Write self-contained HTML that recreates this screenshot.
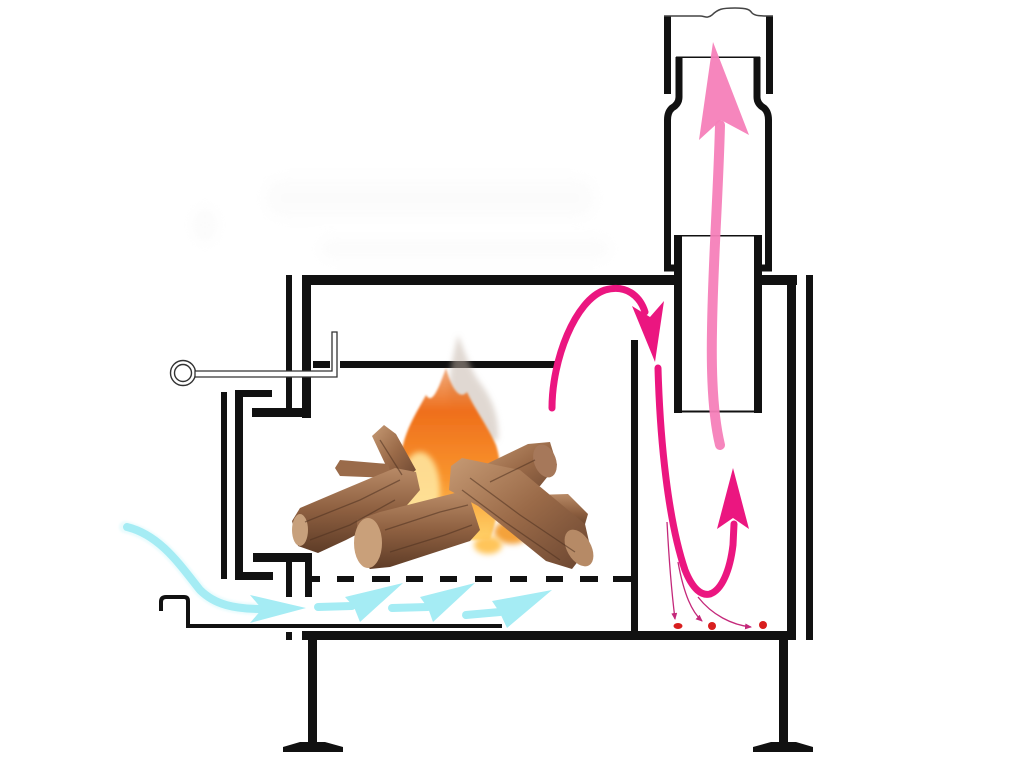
<!DOCTYPE html>
<html>
<head>
<meta charset="utf-8">
<style>
html,body{margin:0;padding:0;background:#fff;}
svg{display:block;}
</style>
</head>
<body>
<svg width="1024" height="765" viewBox="0 0 1024 765" xmlns="http://www.w3.org/2000/svg">
<defs>
  <filter id="blur6" x="-50%" y="-50%" width="200%" height="200%"><feGaussianBlur stdDeviation="6"/></filter>
  <filter id="blur3" x="-50%" y="-50%" width="200%" height="200%"><feGaussianBlur stdDeviation="3"/></filter>
  <filter id="blur1" x="-20%" y="-20%" width="140%" height="140%"><feGaussianBlur stdDeviation="1"/></filter>
  <linearGradient id="flameG" x1="0" y1="1" x2="0" y2="0">
    <stop offset="0" stop-color="#ffd36a"/>
    <stop offset="0.35" stop-color="#f9962e"/>
    <stop offset="0.75" stop-color="#ef6f1c"/>
    <stop offset="1" stop-color="#e8742a" stop-opacity="0.6"/>
  </linearGradient>
  <linearGradient id="barkA" x1="0" y1="0" x2="0" y2="1">
    <stop offset="0" stop-color="#b88a66"/>
    <stop offset="0.5" stop-color="#8d5f40"/>
    <stop offset="1" stop-color="#5e3c27"/>
  </linearGradient>
  <linearGradient id="barkB" x1="0" y1="0" x2="1" y2="1">
    <stop offset="0" stop-color="#c69a74"/>
    <stop offset="0.5" stop-color="#9a6a48"/>
    <stop offset="1" stop-color="#6a4530"/>
  </linearGradient>
  <marker id="mh" markerWidth="8" markerHeight="8" refX="6" refY="3" orient="auto" markerUnits="userSpaceOnUse">
    <path d="M0,0 L7,3 L0,6 Z" fill="#c4287a"/>
  </marker>
</defs>

<!-- faint watermark -->
<g opacity="0.25" filter="url(#blur6)">
  <rect x="265" y="178" width="330" height="40" rx="18" fill="#f3f3f3"/>
  <rect x="320" y="238" width="290" height="22" rx="10" fill="#f3f3f3"/>
  <ellipse cx="205" cy="225" rx="12" ry="18" fill="#f0f0f0"/>
</g>

<!-- ===== stove structure ===== -->
<g fill="#111">
  <!-- top -->
  <rect x="302" y="275" width="380" height="10"/>
  <rect x="754" y="275" width="43" height="10"/>
  <!-- right walls -->
  <rect x="787" y="275" width="9" height="365"/>
  <rect x="806" y="275" width="7" height="365"/>
  <!-- bottom -->
  <rect x="302" y="631" width="494" height="9"/>
  <rect x="286" y="632" width="6" height="8"/>
  <!-- partition -->
  <rect x="631" y="340" width="7" height="295"/>
  <!-- chimney lower pipe -->
  <rect x="674" y="235" width="8" height="178"/>
  <rect x="754" y="235" width="8" height="178"/>
  <rect x="674" y="410.5" width="88" height="2"/>
  <rect x="674" y="235" width="88" height="1.5"/>
  <!-- chimney cap -->
  <rect x="664" y="16" width="7" height="78"/>
  <rect x="766" y="16" width="7" height="78"/>
  <rect x="676" y="56.5" width="84" height="1.5"/>

  <!-- left structure -->
  <rect x="286" y="275" width="6" height="135"/>
  <rect x="302" y="275" width="9" height="143"/>
  <rect x="252" y="408" width="59" height="9"/>
  <rect x="235" y="390" width="37" height="7"/>
  <rect x="235" y="390" width="8" height="190"/>
  <rect x="235" y="572" width="38" height="8"/>
  <rect x="221" y="392" width="6" height="187"/>
  <rect x="253" y="553" width="59" height="9"/>
  <rect x="305" y="553" width="7" height="44"/>
  <rect x="286" y="562" width="6" height="35"/>
  <rect x="311" y="576" width="9" height="6"/>
  <!-- grate dashes -->
  <rect x="337" y="576" width="17" height="6"/>
  <rect x="372" y="576" width="18" height="6"/>
  <rect x="406" y="576" width="17" height="6"/>
  <rect x="440" y="576" width="17" height="6"/>
  <rect x="475" y="576" width="17" height="6"/>
  <rect x="510" y="576" width="17" height="6"/>
  <rect x="546" y="576" width="17" height="6"/>
  <rect x="580" y="576" width="18" height="6"/>
  <rect x="613" y="576" width="20" height="6"/>
  <!-- baffle -->
  <rect x="340" y="361" width="215" height="7"/>
  <rect x="313" y="361" width="17" height="7"/>
  <!-- legs -->
  <rect x="308" y="640" width="9" height="105"/>
  <polygon points="300,742 325,742 343,747 343,752 283,752 283,747"/>
  <rect x="779" y="640" width="9" height="105"/>
  <polygon points="771,742 796,742 813,747 813,752 753,752 753,747"/>
</g>

<!-- chimney bulge walls -->
<g fill="none" stroke="#111" stroke-width="7">
  <path d="M679,57 L679,97 Q679,104 672,108 Q667.5,112 667.5,120 L667.5,268 L678,268"/>
  <path d="M757,57 L757,97 Q757,104 764,108 Q768.5,112 768.5,120 L768.5,268 L758,268"/>
</g>
<!-- chimney wavy top -->
<path d="M664,16 L700,16 C705,16 707,19 712,15 C718,9 722,8 735,8 C748,8 750,10 752,13 C755,16 760,16 773,16" fill="none" stroke="#444" stroke-width="1.5"/>

<!-- ash tray -->
<path d="M161,611 L161,602 Q161,597 166,597 L184,597 Q188,597 188,601 L188,626 L502,626" fill="none" stroke="#111" stroke-width="4"/>

<!-- handle -->
<g fill="none" stroke="#333" stroke-width="1.4">
  <circle cx="183" cy="373" r="12.5"/>
  <circle cx="183" cy="373" r="8.5"/>
</g>
<path d="M195,371 L332,371 L332,332 L337,332 L337,377 L195,377 Z" fill="#fff" stroke="#333" stroke-width="1.3"/>

<!-- ===== fire ===== -->
<g>
  <!-- smoke -->
  <path d="M450,410 C446,385 452,360 458,335 C464,350 470,368 478,380 C490,395 500,415 498,440 C480,445 460,430 450,410 Z" fill="#c2b2a6" opacity="0.5" filter="url(#blur3)"/>
  <!-- main flame -->
  <path d="M390,540 C382,505 393,470 403,445 C408,425 418,410 426,395 C432,405 438,390 446,368 C452,390 460,400 467,392 C474,408 487,425 496,445 C504,470 502,505 490,540 Z" fill="url(#flameG)" filter="url(#blur1)"/>
  <ellipse cx="420" cy="490" rx="20" ry="38" fill="#ffe9a3" opacity="0.85" filter="url(#blur3)"/>
  <ellipse cx="512" cy="532" rx="18" ry="12" fill="#f4a23a" filter="url(#blur3)"/>
  <ellipse cx="488" cy="545" rx="14" ry="9" fill="#ffc55a" filter="url(#blur3)"/>

  <!-- log A (back-left) -->
  <polygon points="372,436 384,425 396,434 416,470 400,482 388,470" fill="url(#barkB)"/>
  <polygon points="335,468 340,460 388,464 392,478 340,476" fill="#9a6b4a"/>
  <polygon points="292,521 300,508 340,491 395,468 416,472 420,490 402,511 346,540 318,553 298,546" fill="url(#barkA)"/>
  <ellipse cx="300" cy="530" rx="8" ry="16" fill="#c7a07c"/>
  <!-- log E (far right) -->
  <polygon points="535,495 568,494 588,514 583,531 560,529 540,516" fill="url(#barkA)"/>
  <!-- log D (top right) -->
  <polygon points="470,472 528,444 550,442 557,465 540,486 496,502 480,496" fill="url(#barkB)"/>
  <ellipse cx="545" cy="461" rx="11" ry="17" fill="#a6785a" transform="rotate(-20 545 461)"/>
  <!-- log B (front middle) -->
  <polygon points="357,520 380,512 455,493 470,499 480,530 470,541 390,567 370,569 357,556" fill="url(#barkA)"/>
  <ellipse cx="368" cy="543" rx="14" ry="25" fill="#c9a07a"/>
  <!-- log C (right diagonal) -->
  <polygon points="451,466 462,458 520,470 585,524 590,546 572,569 546,561 478,506 449,490" fill="url(#barkB)"/>
  <ellipse cx="579" cy="548" rx="12" ry="20" fill="#b68a66" transform="rotate(-30 579 548)"/>
  <!-- textures -->
  <g fill="none" stroke="#4e3120" stroke-width="1.3" opacity="0.55">
    <path d="M305,522 L360,500 L400,480"/>
    <path d="M310,540 L350,525 L395,500"/>
    <path d="M385,530 L440,512 L468,505"/>
    <path d="M390,552 L445,535 L472,525"/>
    <path d="M470,478 L520,515 L575,552"/>
    <path d="M462,490 L505,522 L560,560"/>
    <path d="M490,482 L535,460"/>
    <path d="M380,440 L402,475"/>
  </g>
</g>

<!-- ===== air arrows (cyan) ===== -->
<g>
  <g opacity="0.5" filter="url(#blur1)" stroke="#d6f8fb" fill="none" stroke-width="12" stroke-linecap="round">
    <path d="M125,527 C160,535 180,565 200,590 C215,605 235,609 262,609"/>
  </g>
  <g fill="none" stroke="#a5ecf4" stroke-width="8" stroke-linecap="round">
    <path d="M127,527 C160,535 180,565 200,590 C215,605 235,609 262,609"/>
    <path d="M318,607 L352,606"/>
    <path d="M392,608 L428,607"/>
    <path d="M466,615 L500,612"/>
  </g>
  <g fill="#a5ecf4">
    <polygon points="250,595 306,608 250,623 262,609"/>
    <polygon points="345,597 403,583 360,622 354,607"/>
    <polygon points="420,597 475,583 433,622 428,608"/>
    <polygon points="492,601 552,590 507,628 500,613"/>
  </g>
</g>

<!-- ===== hot gas arrows (magenta) ===== -->
<g fill="none" stroke="#eb1680" stroke-width="7" stroke-linecap="round">
  <path d="M552,408 C552,360 575,300 605,290 C626,284 640,296 645,312"/>
  <path d="M658,368 C660,440 668,520 685,570 C693,590 702,596 710,594 C722,590 730,570 733,545 L734,524"/>
</g>
<g fill="#eb1680">
  <polygon points="632,306 650,317 664,301 655,362"/>
  <polygon points="717,529 733,468 749,529 733,518"/>
</g>

<!-- thin arrows & soot -->
<g fill="none" stroke="#c4287a" stroke-width="1.3" marker-end="url(#mh)">
  <path d="M667,522 C669,560 672,595 675,619"/>
  <path d="M678,562 C684,595 692,612 702,621"/>
  <path d="M698,597 C712,615 732,625 751,627"/>
</g>
<g fill="#d81e1e">
  <ellipse cx="678" cy="626" rx="4.5" ry="3"/>
  <circle cx="712" cy="626" r="4"/>
  <circle cx="763" cy="625" r="4"/>
</g>

<!-- ===== flue arrow (light pink) ===== -->
<path d="M720,445 C714,420 711,380 712,330 C713,260 718,200 720,125" fill="none" stroke="#f680b9" stroke-width="10" stroke-linecap="round" opacity="0.95"/>
<polygon points="713,42 749,135 721,120 699,140" fill="#f680b9" opacity="0.95"/>
</svg>
</body>
</html>
